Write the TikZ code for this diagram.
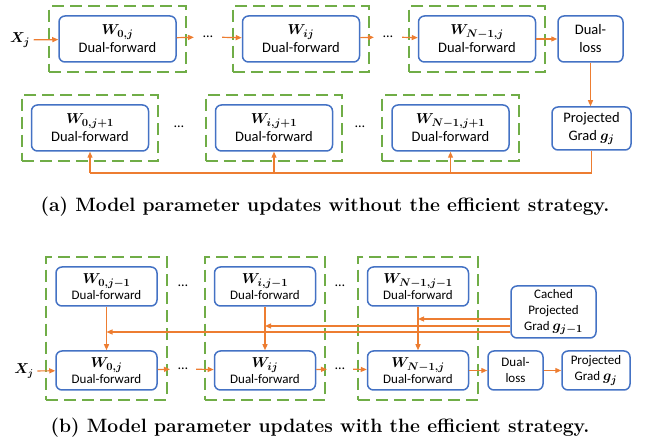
\documentclass[tikz,border=0pt]{standalone}
\usepackage{fontspec}
\setsansfont{Carlito}
\usepackage{bm}
\usetikzlibrary{positioning,fit,arrows.meta}

\definecolor{boxblue}{RGB}{68,114,196}
\definecolor{grpgreen}{RGB}{112,173,71}
\definecolor{flowor}{RGB}{237,125,49}

\newcommand{\wlab}[1]{{\fontsize{15.5}{18}\selectfont$\bm{#1}$}}

\begin{document}
\begin{tikzpicture}[x=1pt,y=-1pt,>={Triangle[length=6pt,width=5pt]},
    fwd/.style={draw=boxblue,line width=1.5pt,rounded corners=6pt,align=center,inner sep=1pt,
        font=\sffamily\fontsize{14.5}{18}\selectfont,minimum width=117pt,minimum height=46pt},
    smallfwd/.style={fwd,font=\sffamily\fontsize{13}{16}\selectfont,minimum width=101pt,minimum height=39pt},
    group/.style={draw=grpgreen,line width=2pt,dash pattern=on 12pt off 6pt,inner sep=9pt},
    flow/.style={->,draw=flowor,line width=1.2pt},
    wire/.style={draw=flowor,line width=1.2pt},
    dots/.style={font=\sffamily\fontsize{14}{16}\selectfont,inner xsep=9pt},
    caption/.style={font=\bfseries\fontsize{19.3}{21}\selectfont}]

\useasboundingbox (0,0) rectangle (648,443);

% (a) without the efficient strategy
\node[fwd] (a0) at (117.5,39) {\wlab{W_{0,j}}\\Dual-forward};
\node[fwd] (ai) at (301,39) {\wlab{W_{ij}}\\Dual-forward};
\node[fwd] (aN) at (477,39) {\wlab{W_{N-1,j}}\\Dual-forward};
\node[fwd,minimum width=65pt] (aloss) at (590.5,39) {Dual-\\loss};
\node[fwd,minimum width=79pt,minimum height=43pt] (agrad) at (591.5,128.5) {Projected\\Grad \wlab{g_j}};
\node[font=\fontsize{15}{16}\selectfont] (ax) at (20,40) {$\bm{X_j}$};
\node[dots] (ad1) at (208,37) {\dots};
\node[dots] (ad2) at (388,37) {\dots};

\node[fwd] (b0) at (90,128) {\wlab{W_{0,j+1}}\\Dual-forward};
\node[fwd] (bi) at (274,128) {\wlab{W_{i,j+1}}\\Dual-forward};
\node[fwd] (bN) at (450.5,128) {\wlab{W_{N-1,j+1}}\\Dual-forward};
\node[dots] (bd1) at (179,127) {\dots};
\node[dots] (bd2) at (360,127) {\dots};

\foreach \n in {a0,ai,aN,b0,bi,bN}
    \node[group,fit=(\n)] (g\n) {};

\draw[flow] (ax) -- (a0);
\draw[flow] (a0) -- (ad1);
\draw[flow] (ad1) -- (ai);
\draw[flow] (ai) -- (ad2);
\draw[flow] (ad2) -- (aN);
\draw[flow] (aN) -- (aloss);
\draw[flow] (aloss.south) -- (aloss.south |- agrad.north);

\coordinate (fb) at (0,173);
\draw[wire] (agrad.south) |- (b0.south |- fb);
\foreach \n in {b0,bi,bN}
    \draw[flow] (\n.south |- fb) -- (\n.south);

\node[caption] (capa) at (325,207) {(a) Model parameter updates without the efficient strategy.};

% (b) with the efficient strategy
\node[smallfwd] (c0t) at (106.5,286.5) {\wlab{W_{0,j-1}}\\Dual-forward};
\node[smallfwd] (cit) at (265,286.5) {\wlab{W_{i,j-1}}\\Dual-forward};
\node[smallfwd] (cNt) at (418,286.5) {\wlab{W_{N-1,j-1}}\\Dual-forward};
\node[smallfwd] (c0) at (106.5,370.5) {\wlab{W_{0,j}}\\Dual-forward};
\node[smallfwd] (ci) at (265,370.5) {\wlab{W_{ij}}\\Dual-forward};
\node[smallfwd] (cN) at (418,370.5) {\wlab{W_{N-1,j}}\\Dual-forward};
\node[smallfwd,minimum width=55pt] (closs) at (515.5,370.5) {Dual-\\loss};
\node[smallfwd,minimum width=68pt] (cgrad) at (596,370.5) {Projected\\Grad \wlab{g_j}};
\node[smallfwd,minimum width=85pt,minimum height=52pt] (ccache) at (553.5,312) {Cached\\Projected\\Grad \wlab{g_{j-1}}};
\node[font=\fontsize{14}{16}\selectfont] (cx) at (24,371) {$\bm{X_j}$};
\node[dots,inner xsep=8pt] (cd1) at (183,286) {\dots};
\node[dots,inner xsep=8pt] (cd2) at (183,369) {\dots};
\node[dots,inner xsep=8pt] (cd3) at (340,286) {\dots};
\node[dots,inner xsep=8pt] (cd4) at (340,369) {\dots};

\node[group,fit=(c0t)(c0)] (gc0) {};
\node[group,fit=(cit)(ci)] (gci) {};
\node[group,fit=(cNt)(cN)] (gcN) {};

\draw[flow] (cx) -- (c0);
\draw[flow] (c0) -- (cd2);
\draw[flow] (cd2) -- (ci);
\draw[flow] (ci) -- (cd4);
\draw[flow] (cd4) -- (cN);
\draw[flow] (cN) -- (closs);
\draw[flow] (closs) -- (cgrad);

\draw[flow] (c0t) -- (c0);
\draw[flow] (cit) -- (ci);
\draw[flow] (cNt) -- (cN);

\coordinate (l1) at (0,319);
\coordinate (l2) at (0,326);
\coordinate (l3) at (0,332);
\draw[flow] (ccache.west |- l1) -- (cNt.south |- l1);
\draw[flow] (ccache.west |- l2) -- (cit.south |- l2);
\draw[flow] (ccache.west |- l3) -- (c0t.south |- l3);

\node[caption] (capb) at (320,428) {(b) Model parameter updates with the efficient strategy.};
\end{tikzpicture}
\end{document}
